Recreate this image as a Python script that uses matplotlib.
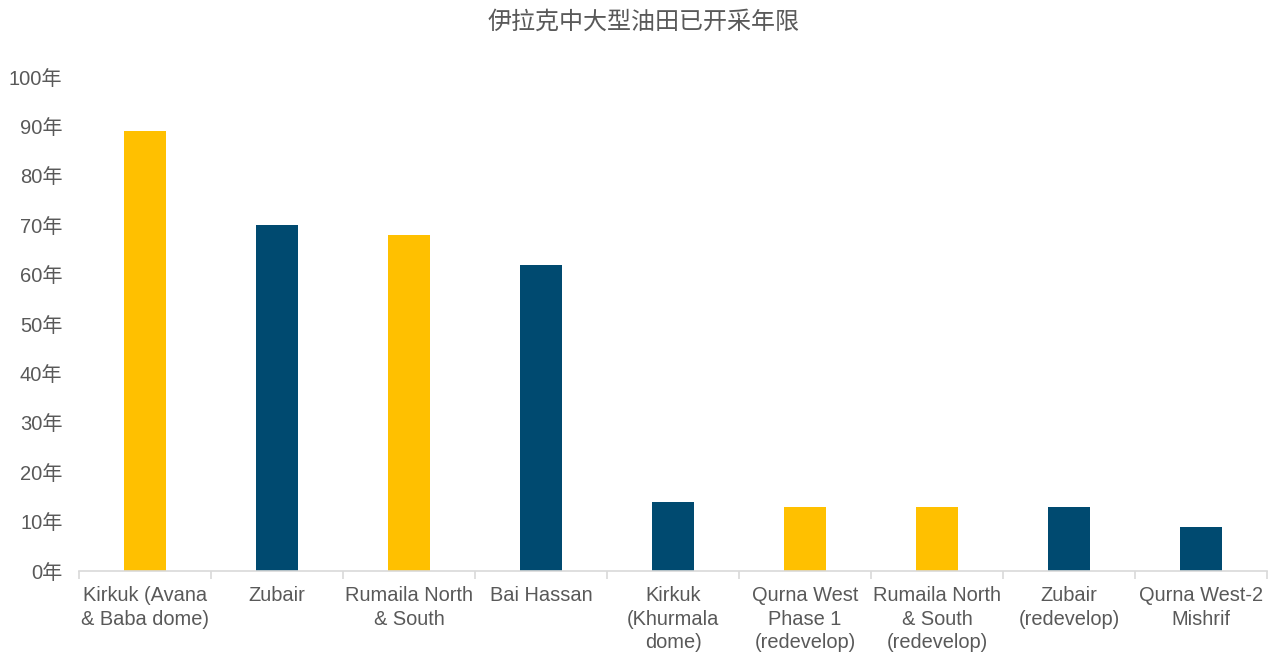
import matplotlib.pyplot as plt
import numpy as np

plt.rcParams['font.family'] = ['Liberation Sans', 'Noto Sans CJK SC', 'DejaVu Sans']

fields = ['Kirkuk (Avana\n& Baba dome)', 'Zubair', 'Rumaila North\n& South', 'Bai Hassan',
          'Kirkuk\n(Khurmala\ndome)', 'Qurna West\nPhase 1\n(redevelop)',
          'Rumaila North\n& South\n(redevelop)', 'Zubair\n(redevelop)', 'Qurna West-2\nMishrif']
years = [89, 70, 68, 62, 14, 13, 13, 13, 9]
bar_colors = ['#FFC000', '#004A70', '#FFC000', '#004A70', '#004A70',
              '#FFC000', '#FFC000', '#004A70', '#004A70']
yticks = [0, 10, 20, 30, 40, 50, 60, 70, 80, 90, 100]

text_color = '#595959'
grid_color = '#D9D9D9'

fig = plt.figure(figsize=(12.71, 6.55), dpi=100)
ax = fig.add_axes([0.0622, 0.128, 0.9348, 0.7542])

x = np.arange(len(fields))
ax.bar(x, years, width=0.32, color=bar_colors)

ax.set_xlim(-0.5, len(fields) - 0.5)
ax.set_ylim(0, 100)
ax.set_yticks(yticks)
ax.set_yticklabels([f'{v}年' for v in yticks], fontsize=14.5, color=text_color)
ax.tick_params(axis='y', length=0, pad=12)

# category labels centred under bars, tick marks on the boundaries
ax.set_xticks(x)
ax.set_xticklabels(fields, fontsize=14.4, color=text_color, linespacing=1.28)
ax.tick_params(axis='x', which='major', length=0, pad=11)
ax.set_xticks(np.arange(len(fields) + 1) - 0.5, minor=True)
ax.tick_params(axis='x', which='minor', length=6, width=1.2, color=grid_color)

for side in ['top', 'right', 'left']:
    ax.spines[side].set_visible(False)
ax.spines['bottom'].set_color(grid_color)
ax.spines['bottom'].set_linewidth(1.2)

fig.text(0.506, 1 - 22 / 655, '伊拉克中大型油田已开采年限', ha='center', va='center',
         fontsize=17.3, color=text_color)

fig.savefig('out.png', dpi=100)
